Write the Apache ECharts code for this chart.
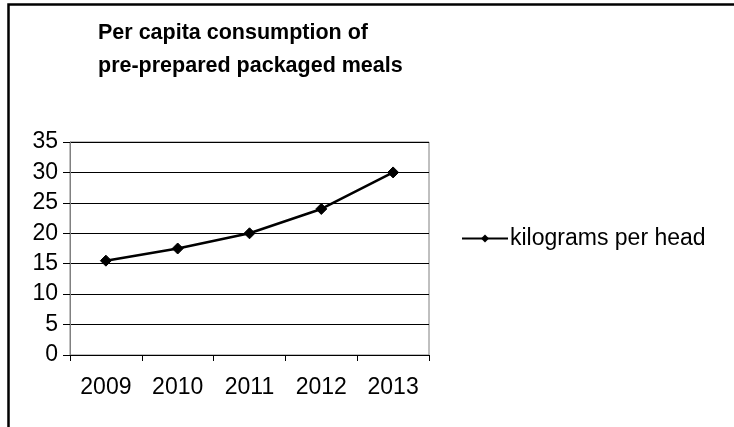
<!DOCTYPE html>
<html>
<head>
<meta charset="utf-8">
<script src="https://cdn.jsdelivr.net/npm/echarts@6/dist/echarts.min.js"></script>
<style>
  html, body { margin: 0; padding: 0; background: #fff; }
  #chart { width: 734px; height: 427px; }
</style>
</head>
<body>
<div id="chart"></div>
<script>
  // chart data
  const years = ['2009', '2010', '2011', '2012', '2013']
  const kgPerHead = [15.5, 17.5, 20, 24, 30]
  const seriesName = 'kilograms per head'
  const titleText = 'Per capita consumption of\npre-prepared packaged meals'

  const font = '"Liberation Sans", Arial, sans-serif'
  const chart = echarts.init(document.getElementById('chart'))

  chart.setOption({
    animation: false,
    backgroundColor: '#fff',
    title: {
      text: titleText,
      left: 98,
      top: 17,
      padding: 0,
      textStyle: {
        fontFamily: font,
        fontSize: 21.5,
        fontWeight: 'bold',
        color: '#000',
        lineHeight: 33
      }
    },
    graphic: [
      {
        type: 'rect',
        shape: { x: 8.5, y: 4.5, width: 900, height: 900 },
        style: { fill: 'none', stroke: '#000', lineWidth: 2.5 },
        silent: true
      }
    ],
    legend: {
      data: [seriesName],
      left: 456,
      top: 222,
      itemWidth: 46,
      itemHeight: 10,
      itemGap: 0,
      textStyle: { fontFamily: font, fontSize: 23, color: '#000', padding: [0, 0, 0, -3] }
    },
    grid: {
      left: 70,
      right: 305,
      top: 142,
      bottom: 72,
      show: true,
      borderColor: '#808080',
      borderWidth: 1,
      containLabel: false
    },
    xAxis: {
      type: 'category',
      data: years,
      boundaryGap: true,
      axisLine: { lineStyle: { color: '#000', width: 1 } },
      axisTick: { show: true, length: 6, lineStyle: { color: '#000' } },
      axisLabel: { interval: 0, fontFamily: font, fontSize: 23, color: '#000', margin: 21 },
      splitLine: { show: false }
    },
    yAxis: {
      type: 'value',
      min: 0,
      max: 35,
      interval: 5,
      axisLine: { show: true, lineStyle: { color: '#808080', width: 1 } },
      axisTick: { show: true, length: 7, lineStyle: { color: '#000' } },
      axisLabel: { fontFamily: font, fontSize: 23, color: '#000', margin: 12 },
      splitLine: { show: true, lineStyle: { color: '#000', width: 1 } }
    },
    series: [
      {
        name: seriesName,
        type: 'line',
        data: kgPerHead,
        symbol: 'diamond',
        symbolSize: 11,
        lineStyle: { color: '#000', width: 2.5 },
        itemStyle: { color: '#000', borderColor: '#000' }
      }
    ]
  })
</script>
</body>
</html>
